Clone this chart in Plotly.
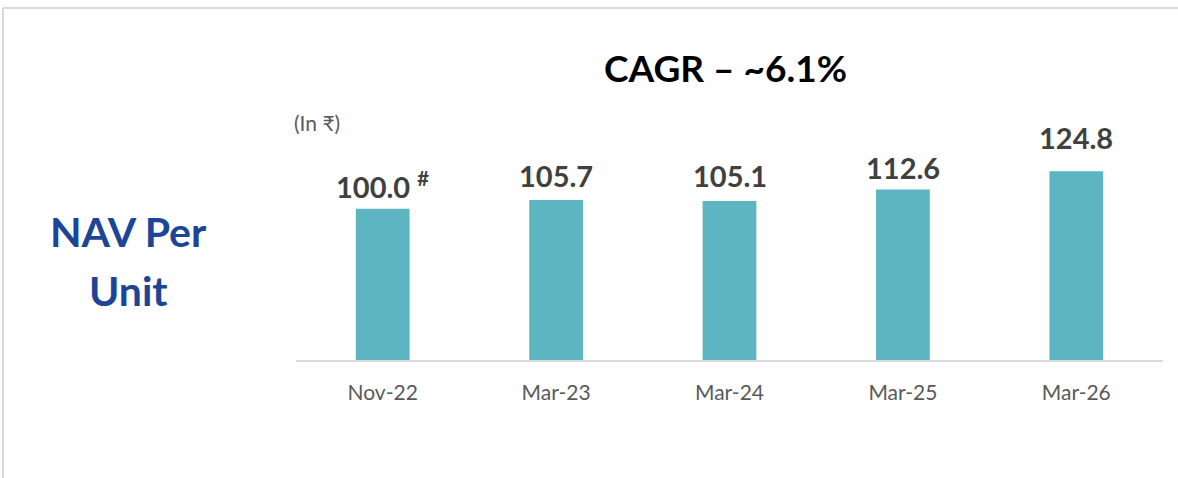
import plotly.graph_objects as go

categories = ["Nov-22", "Mar-23", "Mar-24", "Mar-25", "Mar-26"]
nav_values = [100.0, 105.7, 105.1, 112.6, 124.8]
value_labels = ["100.0 <sup>#</sup>", "105.7", "105.1", "112.6", "124.8"]

# label gap above each bar (px) -- styling only
label_gaps = [3, 5, 6, 3, 14]

FONT = "Lato, 'Open Sans', sans-serif"

fig = go.Figure()
fig.add_trace(go.Bar(
    x=categories,
    y=nav_values,
    marker=dict(color="#5EB5C2", line=dict(width=0)),
    hoverinfo="skip",
))

for cat, val, lab, gap in zip(categories, nav_values, value_labels, label_gaps):
    fig.add_annotation(
        x=cat, y=val, xref="x", yref="y", text=f"<b>{lab}</b>",
        showarrow=False, yanchor="bottom", yshift=gap,
        font=dict(family=FONT, size=29, color="#404040"),
    )

W, H = 1178, 478
l, r, t, b = 296, 15, 130, 118
pw, ph = W - l - r, H - t - b

fig.update_layout(
    width=W, height=H,
    margin=dict(l=l, r=r, t=t, b=b),
    paper_bgcolor="white", plot_bgcolor="white",
    bargap=0.69,
    showlegend=False,
    font=dict(family=FONT),
    xaxis=dict(
        showline=True, linecolor="#d9d9d9", linewidth=2,
        showgrid=False, ticks="", zeroline=False,
        tickfont=dict(family=FONT, size=21, color="#595959"),
        ticklabelstandoff=13,
    ),
    yaxis=dict(range=[0, 152], visible=False, showgrid=False, zeroline=False),
)


def px(x):
    return (x - l) / pw


def py(y):
    return 1 - (y - t) / ph


def note(text, x, y, size, color, xanchor="center"):
    fig.add_annotation(
        text=text, x=px(x), y=py(y), xref="paper", yref="paper",
        xanchor=xanchor, yanchor="middle", showarrow=False,
        font=dict(family=FONT, size=size, color=color),
    )


note("<b>CAGR – ~6.1%</b>", 725, 67, 37, "#000000")
note("(In ₹)", 292, 123, 21, "#595959", xanchor="left")
note("<b>NAV Per</b>", 128, 231, 41, "#1D4597")
note("<b>Unit</b>", 128, 290, 41, "#1D4597")

# Frame lines (top and left)
fig.add_shape(type="line", xref="paper", yref="paper",
              x0=px(3), x1=px(W), y0=py(8), y1=py(8),
              line=dict(color="#d9d9d9", width=2))
fig.add_shape(type="line", xref="paper", yref="paper",
              x0=px(3), x1=px(3), y0=py(8), y1=py(H),
              line=dict(color="#d9d9d9", width=2))

fig.write_html("out.html", config={"displayModeBar": False},
               post_script="document.body.style.margin='0px';")
